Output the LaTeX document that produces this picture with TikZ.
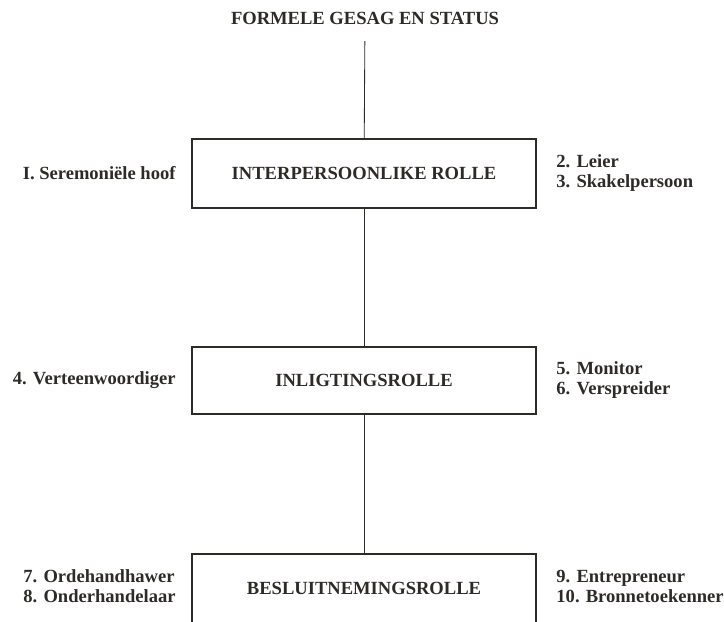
\documentclass[tikz,border=0pt]{standalone}
\usepackage{fontspec}
\setmainfont{Liberation Serif}
\usetikzlibrary{positioning}
\definecolor{tinte}{RGB}{45,43,40}

\begin{document}
\begin{tikzpicture}[x=0.025cm, y=-0.025cm, tinte,
		font=\bfseries\fontsize{13.2}{14.2}\selectfont,
		rolle/.style={draw, line width=1pt, minimum width=8.6cm, minimum height=1.725cm},
		taak/.style={align=left, inner sep=1pt}]

	\useasboundingbox (0,0) rectangle (724,621);
	\clip (0,0) rectangle (724,621);

	\node (titel) at (365,18) {FORMELE GESAG EN STATUS};

	\node[rolle] (R1) at (364,173.5) {INTERPERSOONLIKE ROLLE};
	\node[rolle, minimum height=1.675cm] (R2) at (364,380.5) {INLIGTINGSROLLE};
	\node[rolle] (R3) at (364,588.5) {BESLUITNEMINGSROLLE};

	% rolle links en regs
	\node[taak, left=0.35cm of R1] (L1) {I. Seremoniële hoof};
	\node[taak, right=0.45cm of R1] (T1) {2. Leier\\3. Skakelpersoon};
	\node[taak, left=0.35cm of R2] (L2) {4. Verteenwoordiger};
	\node[taak, right=0.45cm of R2] (T2) {5. Monitor\\6. Verspreider};
	\node[taak, left=0.35cm of R3, yshift=0.06cm] (L3) {7. Ordehandhawer\\8. Onderhandelaar};
	\node[taak, right=0.45cm of R3, yshift=0.06cm] (T3) {9. Entrepreneur\\10. Bronnetoekenner};

	\draw[line width=0.6pt, shorten <=0.3cm] (titel) -- (R1);
	\foreach \a/\b in {R1/R2, R2/R3}
		\draw[line width=0.6pt] (\a) -- (\b);

\end{tikzpicture}
\end{document}
